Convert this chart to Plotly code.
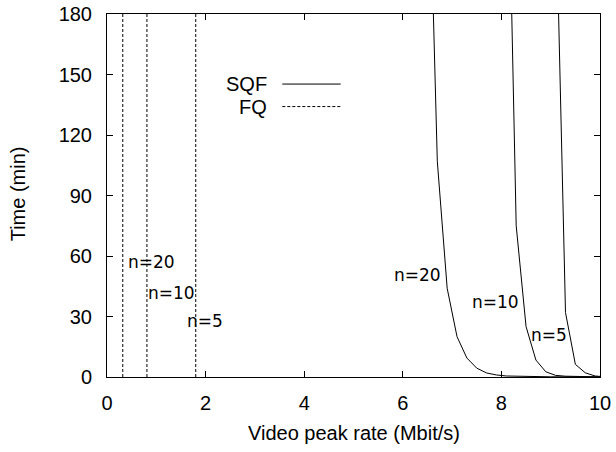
import plotly.graph_objects as go

# ---- data ----
n_values = [20, 10, 5]

# FQ: vertical dashed lines at these peak rates (Mbit/s)
fq_rate = [0.32, 0.81, 1.80]

# SQF curves: peak rate (Mbit/s) vs time (min)
sqf20_rate = [6.5, 6.7, 6.9, 7.1, 7.3, 7.5, 7.7, 7.9, 8.1, 8.5, 9.0, 10.0]
sqf20_time = [290, 107, 44, 20, 9.4, 4.4, 2.0, 1.0, 0.5, 0.2, 0.1, 0.05]

sqf10_rate = [8.1, 8.3, 8.5, 8.7, 8.9, 9.1, 9.3, 9.5, 10.0]
sqf10_time = [308, 75, 25, 8.4, 2.6, 0.8, 0.4, 0.2, 0.05]

sqf5_rate = [9.1, 9.3, 9.5, 9.7, 9.9, 10.0]
sqf5_time = [243, 32, 6.3, 2.1, 0.5, 0.3]

y_top = 180
x_ticks = [0, 2, 4, 6, 8, 10]
y_ticks = [0, 30, 60, 90, 120, 150, 180]

MAIN_FONT = "Liberation Sans, Arial, Helvetica, sans-serif"
LABEL_FONT = "DejaVu Sans, sans-serif"

fig = go.Figure()

# FQ dashed verticals
for r in fq_rate:
    fig.add_trace(go.Scatter(
        x=[r, r], y=[0, y_top], mode="lines",
        line=dict(color="black", width=1, dash="3px,2px"),
        showlegend=False, hoverinfo="skip"))

# SQF solid curves
for xs, ys in [(sqf20_rate, sqf20_time), (sqf10_rate, sqf10_time), (sqf5_rate, sqf5_time)]:
    fig.add_trace(go.Scatter(
        x=xs, y=ys, mode="lines",
        line=dict(color="black", width=1),
        showlegend=False, hoverinfo="skip"))

# curve labels
fq_label_pos = [(0.38, 57), (0.80, 41.5), (1.575, 28)]
sqf_label_pos = [(5.79, 50.6), (7.37, 37.3), (8.555, 20.8)]
for n, (lx, ly) in zip(n_values, fq_label_pos):
    fig.add_annotation(x=lx, y=ly, text=f"n={n}", showarrow=False,
                       xanchor="left", yanchor="middle",
                       font=dict(family=LABEL_FONT, size=17, color="black"))
for n, (lx, ly) in zip(n_values, sqf_label_pos):
    fig.add_annotation(x=lx, y=ly, text=f"n={n}", showarrow=False,
                       xanchor="left", yanchor="middle",
                       font=dict(family=LABEL_FONT, size=17, color="black"))

# key (text left, line sample right, gnuplot style)
key_rows = [("SQF", 0.807, "solid"), ("FQ", 0.745, "3px,2px")]
for name, py, dash in key_rows:
    fig.add_annotation(xref="paper", yref="paper", x=0.329, y=py, text=name,
                       showarrow=False, xanchor="right", yanchor="middle",
                       font=dict(family=MAIN_FONT, size=20, color="black"))
    fig.add_shape(type="line", xref="paper", yref="paper",
                  x0=0.3556, x1=0.474, y0=py, y1=py,
                  line=dict(color="black", width=1, dash=dash))

# axis titles
fig.add_annotation(xref="paper", yref="paper", x=0.5006, y=-0.155,
                   text="Video peak rate (Mbit/s)", showarrow=False,
                   xanchor="center", yanchor="middle",
                   font=dict(family=MAIN_FONT, size=20, color="black"))
fig.add_annotation(xref="paper", yref="paper", x=-0.18, y=0.504,
                   text="Time (min)", showarrow=False, textangle=-90,
                   xanchor="center", yanchor="middle",
                   font=dict(family=MAIN_FONT, size=20, color="black"))

axis_common = dict(
    showgrid=False, zeroline=False, showline=True, linecolor="black",
    linewidth=1, mirror="allticks", ticks="inside", ticklen=6,
    tickcolor="black", tickwidth=1, automargin=False,
    tickfont=dict(family=MAIN_FONT, size=20, color="black"),
)

fig.update_xaxes(range=[0, 10], tickvals=x_ticks, ticklabelstandoff=8,
                 **axis_common)
fig.update_yaxes(range=[0, y_top], tickvals=y_ticks, ticklabelstandoff=10,
                 **axis_common)

fig.update_layout(
    width=616, height=452,
    margin=dict(l=107, r=16, t=14, b=75),
    paper_bgcolor="white", plot_bgcolor="white",
    showlegend=False,
)

fig.write_html("out.html",
               config={"displayModeBar": False},
               post_script="document.body.style.margin='0';"
                           "document.body.style.overflow='hidden';")
